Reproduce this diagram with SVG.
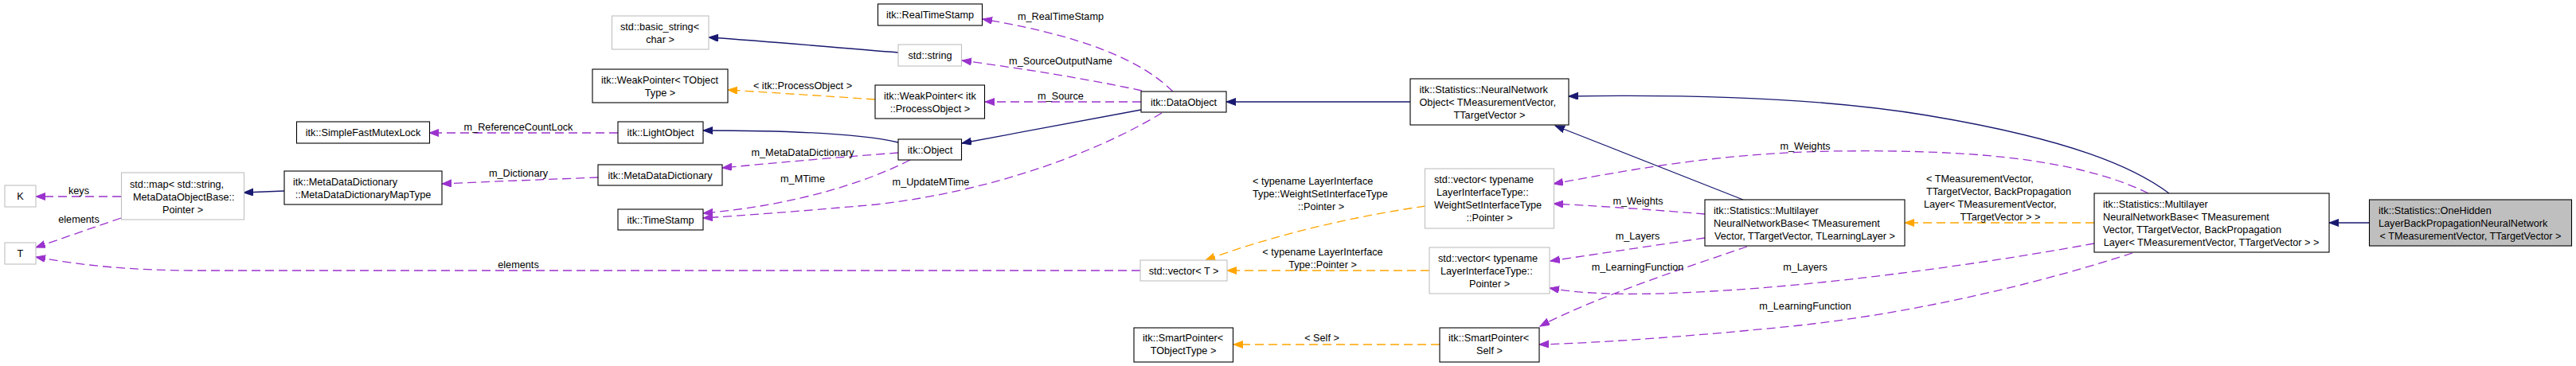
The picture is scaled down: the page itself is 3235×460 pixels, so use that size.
<svg xmlns="http://www.w3.org/2000/svg" width="3235" height="460" viewBox="0 0 3235 460">
<style>
text{font-family:"Liberation Sans",Arial,sans-serif;font-size:12.7px;fill:#000}
.m{text-anchor:middle}
.s{text-anchor:start}
.nb{fill:#fff;stroke:#000;stroke-width:1.1}
.ng{fill:#fff;stroke:#bfbfbf;stroke-width:1.1}
.nm{fill:#bfbfbf;stroke:#000;stroke-width:1.1}
.inh{fill:none;stroke:#191970;stroke-width:1.3;marker-end:url(#aN)}
.use{fill:none;stroke:#9a32cd;stroke-width:1.3;stroke-dasharray:11,6;marker-end:url(#aP)}
.tpl{fill:none;stroke:#ffa500;stroke-width:1.3;stroke-dasharray:11,6;marker-end:url(#aO)}
</style>
<defs>
<marker id="aN" markerUnits="userSpaceOnUse" markerWidth="13" markerHeight="10" refX="12" refY="4.5" orient="auto"><path d="M0,0 L12,4.5 L0,9 z" fill="#191970" stroke="#191970"/></marker>
<marker id="aP" markerUnits="userSpaceOnUse" markerWidth="13" markerHeight="10" refX="12" refY="4.5" orient="auto"><path d="M0,0 L12,4.5 L0,9 z" fill="#9a32cd" stroke="#9a32cd"/></marker>
<marker id="aO" markerUnits="userSpaceOnUse" markerWidth="13" markerHeight="10" refX="12" refY="4.5" orient="auto"><path d="M0,0 L12,4.5 L0,9 z" fill="#ffa500" stroke="#ffa500"/></marker>
</defs>
<rect width="3235" height="460" fill="#fff"/>
<g id="connectors">
<path class="inh" d="M2975,280 L2925,280"/>
<path class="inh" d="M2724,243 C2680,210 2600,175 2420,145 C2300,125 2150,118 1970,121"/>
<path class="inh" d="M2189,251 L1953,158"/>
<path class="inh" d="M1771,128 L1540,128"/>
<path class="inh" d="M1433,138 L1208,180"/>
<path class="inh" d="M1128,179 C1090,170 1010,164 883,164"/>
<path class="inh" d="M1128,66 C1050,60 980,53 890,47"/>
<path class="inh" d="M357,240 L306,242"/>
<path class="use" d="M152,247 L45,247"/>
<text class="m" x="99" y="243.5">keys</text>
<path class="use" d="M152,274 L45,311"/>
<text class="m" x="99" y="279.5">elements</text>
<path class="use" d="M1432,340 L250,340 C160,340 100,333 45,323"/>
<text class="m" x="651" y="336.5">elements</text>
<path class="use" d="M776,167 L539,167"/>
<text class="m" x="651" y="163.5">m_ReferenceCountLock</text>
<path class="use" d="M751,223 C700,225 620,228 555,231"/>
<text class="m" x="651" y="221.5">m_Dictionary</text>
<path class="use" d="M1128,192 C1060,197 980,204 907,211"/>
<text class="m" x="1008" y="195.5">m_MetaDataDictionary</text>
<path class="use" d="M1143,201 C1090,228 1000,258 883,268"/>
<text class="m" x="1008" y="228.5">m_MTime</text>
<path class="use" d="M1459,142 C1380,190 1250,240 1100,257 C1000,266 930,271 883,274"/>
<text class="m" x="1169" y="232.5">m_UpdateMTime</text>
<path class="use" d="M1473,115 C1445,88 1390,50 1234,24"/>
<text class="m" x="1332" y="24.5">m_RealTimeStamp</text>
<path class="use" d="M1434,114 C1370,100 1290,87 1208,76"/>
<text class="m" x="1332" y="80.5">m_SourceOutputName</text>
<path class="use" d="M1433,128 L1237,128"/>
<text class="m" x="1332" y="124.5">m_Source</text>
<path class="use" d="M2141,269 C2080,264 2010,259 1951,256"/>
<text class="m" x="2057" y="256.5">m_Weights</text>
<path class="use" d="M2698,243 C2600,195 2450,188 2300,190 C2150,193 2040,215 1951,231"/>
<text class="m" x="2267" y="187.5">m_Weights</text>
<path class="use" d="M2141,299 L1947,328"/>
<text class="m" x="2056.5" y="300.5">m_Layers</text>
<path class="use" d="M2630,306 C2500,330 2300,358 2150,366 C2050,372 1990,370 1946,362"/>
<text class="m" x="2267" y="339.5">m_Layers</text>
<path class="use" d="M2194,310 C2120,335 2000,375 1934,410"/>
<text class="m" x="2056.5" y="339.5">m_LearningFunction</text>
<path class="use" d="M2678,318 C2580,350 2420,392 2250,410 C2100,425 2000,431 1933,433"/>
<text class="m" x="2267" y="388.5">m_LearningFunction</text>
<path class="tpl" d="M1099,125 C1040,121 980,117 914,113"/>
<text class="m" x="1008" y="111.5">&lt; itk::ProcessObject &gt;</text>
<path class="tpl" d="M1790,259 C1700,272 1600,295 1514,327"/>
<text class="s" x="1573" y="231.5">&lt; typename LayerInterface</text>
<text class="s" x="1573" y="247.5">Type::WeightSetInterfaceType</text>
<text class="m" x="1659" y="263.5">::Pointer &gt;</text>
<path class="tpl" d="M1795,340 L1541,340"/>
<text class="m" x="1661" y="320.5">&lt; typename LayerInterface</text>
<text class="m" x="1661" y="336.5">Type::Pointer &gt;</text>
<path class="tpl" d="M1808,433 L1549,433"/>
<text class="m" x="1660" y="428.5">&lt; Self &gt;</text>
<path class="tpl" d="M2630,280 L2392,280"/>
<text class="s" x="2419" y="228.5">&lt; TMeasurementVector,</text>
<text class="s" x="2419" y="244.5">TTargetVector, BackPropagation</text>
<text class="s" x="2416" y="260.5">Layer&lt; TMeasurementVector,</text>
<text class="m" x="2512" y="276.5">TTargetVector &gt; &gt;</text>
</g>
<g id="n_K"><rect class="ng" x="6" y="233" width="39" height="27"/><text class="m" x="25.5" y="251">K</text></g>
<g id="n_T"><rect class="ng" x="6" y="305" width="39" height="27"/><text class="m" x="25.5" y="323">T</text></g>
<g id="n_map"><rect class="ng" x="152.5" y="217" width="154" height="59"/><text class="s" x="163" y="235.5">std::map&lt; std::string,</text><text class="s" x="167" y="251.5">MetaDataObjectBase::</text><text class="m" x="229.5" y="267.5">Pointer &gt;</text></g>
<g id="n_mutex"><rect class="nb" x="372.5" y="153" width="167" height="27"/><text class="m" x="456" y="171">itk::SimpleFastMutexLock</text></g>
<g id="n_maptype"><rect class="nb" x="357" y="215" width="198" height="42"/><text class="s" x="368" y="232.5">itk::MetaDataDictionary</text><text class="m" x="456" y="248.5">::MetaDataDictionaryMapType</text></g>
<g id="n_basicstring"><rect class="ng" x="768.5" y="20" width="121.5" height="42"/><text class="s" x="779" y="37.5">std::basic_string&lt;</text><text class="m" x="829" y="53.5">char &gt;</text></g>
<g id="n_weakT"><rect class="nb" x="744" y="87" width="170" height="42"/><text class="s" x="755" y="104.5">itk::WeakPointer&lt; TObject</text><text class="m" x="829" y="120.5">Type &gt;</text></g>
<g id="n_light"><rect class="nb" x="776" y="153" width="107" height="27"/><text class="m" x="829.5" y="171">itk::LightObject</text></g>
<g id="n_mdd"><rect class="nb" x="751" y="207" width="156" height="26"/><text class="m" x="829" y="224.5">itk::MetaDataDictionary</text></g>
<g id="n_timestamp"><rect class="nb" x="776" y="263" width="107" height="26"/><text class="m" x="829.5" y="280.5">itk::TimeStamp</text></g>
<g id="n_rts"><rect class="nb" x="1102.5" y="5" width="131" height="27"/><text class="m" x="1168" y="23">itk::RealTimeStamp</text></g>
<g id="n_string"><rect class="ng" x="1128" y="56" width="79.5" height="27"/><text class="m" x="1168" y="74">std::string</text></g>
<g id="n_weakPO"><rect class="nb" x="1099" y="107" width="137.5" height="42"/><text class="s" x="1110" y="124.5">itk::WeakPointer&lt; itk</text><text class="m" x="1168" y="140.5">::ProcessObject &gt;</text></g>
<g id="n_object"><rect class="nb" x="1128" y="175" width="79.5" height="26"/><text class="m" x="1168" y="192.5">itk::Object</text></g>
<g id="n_dataobject"><rect class="nb" x="1433" y="115" width="107" height="26"/><text class="m" x="1486.5" y="132.5">itk::DataObject</text></g>
<g id="n_vectorT"><rect class="ng" x="1432" y="327" width="109" height="26"/><text class="m" x="1486.5" y="344.5">std::vector&lt; T &gt;</text></g>
<g id="n_spT"><rect class="nb" x="1424" y="412" width="124.5" height="43"/><text class="s" x="1435" y="428.5">itk::SmartPointer&lt;</text><text class="m" x="1486" y="444.5">TObjectType &gt;</text></g>
<g id="n_nno"><rect class="nb" x="1771" y="99" width="199" height="58"/><text class="s" x="1782.5" y="116.5">itk::Statistics::NeuralNetwork</text><text class="s" x="1782.5" y="132.5">Object&lt; TMeasurementVector,</text><text class="m" x="1870.5" y="148.5">TTargetVector &gt;</text></g>
<g id="n_vecW"><rect class="ng" x="1789.5" y="212" width="162" height="75"/><text class="s" x="1801" y="230">std::vector&lt; typename</text><text class="s" x="1804" y="246">LayerInterfaceType::</text><text class="s" x="1801" y="262">WeightSetInterfaceType</text><text class="m" x="1870.5" y="278">::Pointer &gt;</text></g>
<g id="n_vecL"><rect class="ng" x="1795" y="311" width="151" height="58"/><text class="s" x="1806" y="328.5">std::vector&lt; typename</text><text class="s" x="1809" y="344.5">LayerInterfaceType::</text><text class="m" x="1870.5" y="360.5">Pointer &gt;</text></g>
<g id="n_spS"><rect class="nb" x="1808" y="412" width="125" height="43"/><text class="s" x="1819" y="428.5">itk::SmartPointer&lt;</text><text class="m" x="1870.5" y="444.5">Self &gt;</text></g>
<g id="n_mlb"><rect class="nb" x="2141" y="251" width="251" height="58"/><text class="s" x="2152" y="268.5">itk::Statistics::Multilayer</text><text class="s" x="2152" y="284.5">NeuralNetworkBase&lt; TMeasurement</text><text class="m" x="2266.5" y="300.5">Vector, TTargetVector, TLearningLayer &gt;</text></g>
<g id="n_mlbp"><rect class="nb" x="2630" y="243" width="295" height="74"/><text class="s" x="2641" y="260.5">itk::Statistics::Multilayer</text><text class="s" x="2641" y="276.5">NeuralNetworkBase&lt; TMeasurement</text><text class="s" x="2641" y="292.5">Vector, TTargetVector, BackPropagation</text><text class="m" x="2777" y="308.5">Layer&lt; TMeasurementVector, TTargetVector &gt; &gt;</text></g>
<g id="n_onehidden"><rect class="nm" x="2975.5" y="251" width="254" height="58"/><text class="s" x="2987" y="268.5">itk::Statistics::OneHidden</text><text class="s" x="2987" y="284.5">LayerBackPropagationNeuralNetwork</text><text class="m" x="3102.5" y="300.5">&lt; TMeasurementVector, TTargetVector &gt;</text></g>
</svg>
